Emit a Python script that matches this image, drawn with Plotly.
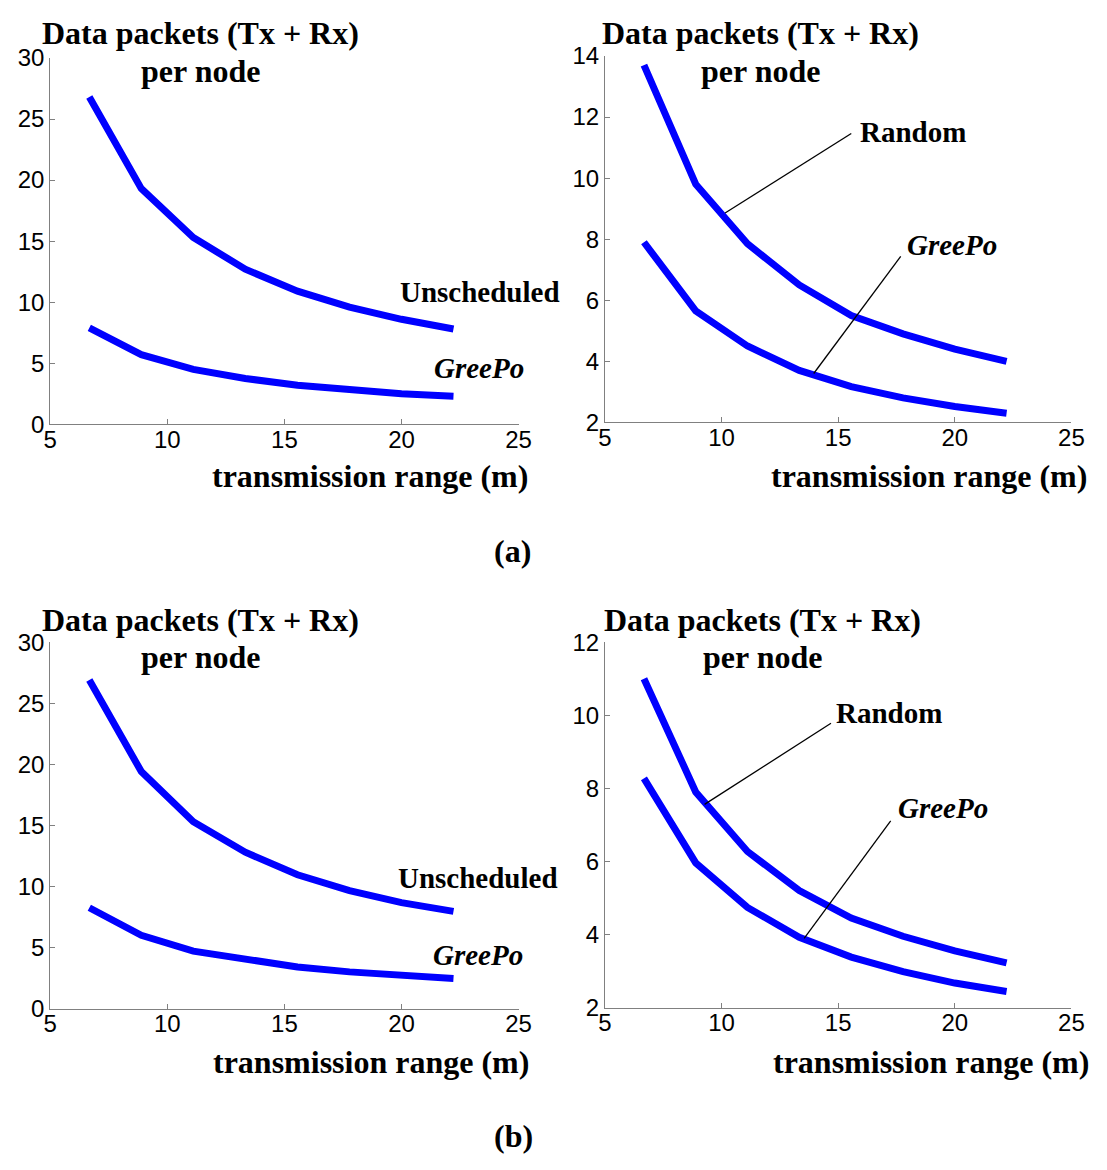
import plotly.graph_objects as go

W, H = 1107, 1170

# ---------------- data ----------------
x_range = [6.67, 8.89, 11.11, 13.33, 15.56, 17.78, 20.0, 22.22]

a_unscheduled = [26.8, 19.3, 15.3, 12.7, 10.9, 9.6, 8.6, 7.8]
a_greepo_left = [7.9, 5.7, 4.5, 3.75, 3.2, 2.8, 2.5, 2.3]
a_random = [13.7, 9.8, 7.85, 6.5, 5.5, 4.9, 4.4, 4.0]
a_greepo_right = [7.9, 5.65, 4.5, 3.7, 3.17, 2.8, 2.52, 2.3]

b_unscheduled = [26.9, 19.4, 15.3, 12.8, 10.95, 9.65, 8.67, 7.95]
b_greepo_left = [8.25, 6.0, 4.7, 4.0, 3.4, 3.0, 2.68, 2.45]
b_random = [11.0, 7.9, 6.27, 5.2, 4.45, 3.95, 3.55, 3.22]
b_greepo_right = [8.27, 5.96, 4.74, 3.92, 3.38, 2.98, 2.67, 2.44]

x_ticks = [5, 10, 15, 20, 25]
y_ticks_left = [0, 5, 10, 15, 20, 25, 30]
y_ticks_a_right = [2, 4, 6, 8, 10, 12, 14]
y_ticks_b_right = [2, 4, 6, 8, 10, 12]

y_title_1 = "Data packets (Tx + Rx)"
y_title_2 = "per node"
x_title = "transmission range (m)"

# ---------------- layout helpers ----------------
def fx(p):
    return p / W

def fy(p):
    return 1 - p / H

BLUE = "#0000FF"
AXC = "#808080"
TICKFONT = dict(family="Liberation Sans, Arial", size=24, color="black")
SERIF_B = "Liberation Serif, Times New Roman"

panels = [
    dict(n=1, xd=(44, 521), yd=(45, 420), yr=[0, 30], yt=y_ticks_left,
         series=[a_unscheduled, a_greepo_left]),
    dict(n=2, xd=(609, 1084), yd=(43, 418), yr=[2, 14], yt=y_ticks_a_right,
         series=[a_random, a_greepo_right]),
    dict(n=3, xd=(44, 521), yd=(643, 1018), yr=[0, 30], yt=y_ticks_left,
         series=[b_unscheduled, b_greepo_left]),
    dict(n=4, xd=(609, 1084), yd=(643, 1017), yr=[2, 12], yt=y_ticks_b_right,
         series=[b_random, b_greepo_right]),
]

fig = go.Figure()
layout = dict(
    width=W, height=H,
    margin=dict(l=0, r=0, t=0, b=0),
    paper_bgcolor="white", plot_bgcolor="white",
    showlegend=False,
)

for p in panels:
    n = p["n"]
    xa = "x" if n == 1 else f"x{n}"
    ya = "y" if n == 1 else f"y{n}"
    for s in p["series"]:
        fig.add_trace(go.Scatter(
            x=x_range, y=s, mode="lines", xaxis=xa, yaxis=ya,
            line=dict(color=BLUE, width=7), cliponaxis=False,
        ))
    xkey = "xaxis" if n == 1 else f"xaxis{n}"
    ykey = "yaxis" if n == 1 else f"yaxis{n}"
    layout[xkey] = dict(
        domain=[fx(p["xd"][0]), fx(p["xd"][1])], range=[5, 25],
        anchor=ya, tickvals=x_ticks, ticktext=[str(v) for v in x_ticks],
        ticks="inside", ticklen=5, tickcolor=AXC, tickwidth=1,
        showline=True, linecolor=AXC, linewidth=1, ticklabelstandoff=-6,
        showgrid=False, zeroline=False, tickfont=TICKFONT,
    )
    layout[ykey] = dict(
        domain=[fy(p["yd"][1]), fy(p["yd"][0])], range=p["yr"],
        anchor=xa, tickvals=p["yt"], ticktext=[str(v) for v in p["yt"]],
        ticks="inside", ticklen=5, tickcolor=AXC, tickwidth=1,
        showline=True, linecolor=AXC, linewidth=1,
        showgrid=False, zeroline=False, tickfont=TICKFONT,
    )

fig.update_layout(**layout)

ann = []
TF = dict(family=SERIF_B, size=32, color="black")
LF = dict(family=SERIF_B, size=29, color="black")

# axis titles (paper coordinates)
title_pos = [(197, 19, 197, 58, 370, 473),
             (767, 19, 767, 58, 939, 473),
             (197, 620, 197, 658, 371, 1073),
             (769, 620, 769, 658, 941, 1073)]
for (tx, ty, px_, py_, xx, xy) in title_pos:
    ann.append(dict(xref="paper", yref="paper", x=fx(tx), y=fy(ty),
                    text=f"<b>{y_title_1}</b>", showarrow=False,
                    xanchor="center", yanchor="middle", font=TF))
    ann.append(dict(xref="paper", yref="paper", x=fx(px_), y=fy(py_),
                    text=f"<b>{y_title_2}</b>", showarrow=False,
                    xanchor="center", yanchor="middle", font=TF))
    ann.append(dict(xref="paper", yref="paper", x=fx(xx), y=fy(xy),
                    text=f"<b>{x_title}</b>", showarrow=False,
                    xanchor="center", yanchor="middle", font=TF))

for lab, cx, cy in [("(a)", 515, 550), ("(b)", 516, 1148)]:
    ann.append(dict(xref="paper", yref="paper", x=fx(cx), y=fy(cy),
                    text=f"<b>{lab}</b>", showarrow=False,
                    xanchor="center", yanchor="middle", font=TF))

# series labels on left panels (data coords)
left_labels = [("x", "y", "<b>Unscheduled</b>", 19.86, 10.8),
               ("x", "y", "<b><i>GreePo</i></b>", 21.31, 4.6),
               ("x3", "y3", "<b>Unscheduled</b>", 19.76, 10.7),
               ("x3", "y3", "<b><i>GreePo</i></b>", 21.25, 4.35)]
for xr, yr, t, x, y in left_labels:
    ann.append(dict(xref=xr, yref=yr, x=x, y=y, text=t, showarrow=False,
                    xanchor="left", yanchor="middle", font=LF))

# callouts on right panels: (xref, yref, text, text_x, text_y, line from, line to)
callouts = [("x2", "y2", "<b>Random</b>", 15.83, 11.5, (15.56, 11.46), (10.15, 8.86)),
            ("x2", "y2", "<b><i>GreePo</i></b>", 17.87, 7.8, (17.68, 7.44), (13.95, 3.6)),
            ("x4", "y4", "<b>Random</b>", 14.8, 10.05, (14.69, 9.78), (9.27, 7.56)),
            ("x4", "y4", "<b><i>GreePo</i></b>", 17.47, 7.47, (17.25, 7.11), (13.54, 3.89))]
shapes = []
for xr, yr, t, x, y, a, b in callouts:
    ann.append(dict(xref=xr, yref=yr, x=x, y=y, text=t, showarrow=False,
                    xanchor="left", yanchor="middle", font=LF))
    shapes.append(dict(type="line", xref=xr, yref=yr, x0=a[0], y0=a[1],
                       x1=b[0], y1=b[1], line=dict(color="black", width=1.3)))

fig.update_layout(annotations=ann, shapes=shapes)
fig.write_html("out.html")
